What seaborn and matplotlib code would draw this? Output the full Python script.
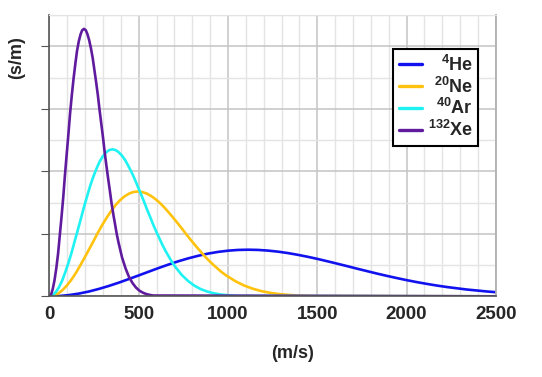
import pandas as pd
import matplotlib
matplotlib.use("Agg")
import matplotlib.pyplot as plt
import seaborn as sns

# speed (m/s) and speed distribution (1e-3 s/m)
he_speed = [0, 56, 111, 167, 223, 278, 334, 390, 445, 501, 557, 612, 668, 723,
            779, 835, 890, 946, 1002, 1057, 1113, 1169, 1224, 1280, 1336, 1391,
            1447, 1503, 1558, 1614, 1670, 1725, 1781, 1836, 1892, 1948, 2003,
            2059, 2115, 2170, 2226, 2337, 2449, 2500]
he_dens = [0, 0.0051, 0.0201, 0.0446, 0.0779, 0.1191, 0.1668, 0.2198, 0.2765,
           0.3353, 0.3948, 0.4533, 0.5093, 0.5615, 0.6087, 0.6499, 0.6843,
           0.7113, 0.7306, 0.7422, 0.7459, 0.7423, 0.7316, 0.7146, 0.6918,
           0.6641, 0.6323, 0.5973, 0.5598, 0.5207, 0.4809, 0.4408, 0.4013,
           0.3627, 0.3257, 0.2904, 0.2573, 0.2264, 0.1980, 0.1721, 0.1486,
           0.1087, 0.0776, 0.0659]

ne_speed = [0, 25, 50, 74, 99, 124, 149, 173, 198, 223, 248, 272, 297, 322,
            347, 371, 396, 421, 446, 470, 495, 520, 545, 569, 594, 619, 644,
            668, 693, 718, 743, 767, 792, 817, 842, 866, 891, 916, 941, 965,
            990, 1040, 1089, 1139, 1188, 1238, 1287, 1337, 1386, 1436, 1485,
            2500]
ne_dens = [0, 0.0114, 0.0451, 0.1003, 0.1752, 0.2677, 0.3750, 0.4941, 0.6216,
           0.7540, 0.8877, 1.0192, 1.1451, 1.2625, 1.3686, 1.4612, 1.5386,
           1.5994, 1.6429, 1.6687, 1.6772, 1.6690, 1.6451, 1.6067, 1.5555,
           1.4932, 1.4217, 1.3429, 1.2587, 1.1709, 1.0812, 0.9912, 0.9023,
           0.8156, 0.7323, 0.6531, 0.5785, 0.5092, 0.4453, 0.3869, 0.3340,
           0.2444, 0.1745, 0.1216, 0.0827, 0.0550, 0.0357, 0.0227, 0.0141,
           0.0085, 0.0051, 0]

ar_speed = [0, 18, 35, 53, 71, 88, 106, 124, 141, 159, 177, 194, 212, 229,
            247, 265, 282, 300, 318, 335, 353, 371, 388, 406, 424, 441, 459,
            477, 494, 512, 530, 547, 565, 582, 600, 618, 635, 653, 671, 688,
            706, 741, 777, 812, 847, 883, 918, 953, 988, 1024, 1059, 2500]
ar_dens = [0, 0.0159, 0.0633, 0.1406, 0.2457, 0.3754, 0.5259, 0.6929, 0.8717,
           1.0573, 1.2448, 1.4291, 1.6058, 1.7704, 1.9192, 2.0491, 2.1575,
           2.2428, 2.3038, 2.3400, 2.3520, 2.3404, 2.3068, 2.2530, 2.1812,
           2.0939, 1.9937, 1.8832, 1.7651, 1.6419, 1.5161, 1.3899, 1.2652,
           1.1437, 1.0269, 0.9158, 0.8113, 0.7140, 0.6244, 0.5425, 0.4684,
           0.3427, 0.2447, 0.1705, 0.1160, 0.0771, 0.0501, 0.0318, 0.0197,
           0.0120, 0.0071, 0]

xe_speed = [0, 10, 19, 29, 39, 49, 58, 68, 78, 87, 97, 107, 116, 126, 136, 146,
            155, 165, 175, 184, 194, 204, 213, 223, 233, 243, 252, 262, 272,
            281, 291, 301, 310, 320, 330, 340, 349, 359, 369, 378, 388, 407,
            427, 446, 466, 485, 504, 524, 543, 563, 582, 2500]
xe_dens = [0, 0.0290, 0.1152, 0.2559, 0.4471, 0.6830, 0.9569, 1.2607, 1.5861,
           1.9239, 2.2650, 2.6004, 2.9218, 3.2213, 3.4921, 3.7284, 3.9257,
           4.0809, 4.1918, 4.2578, 4.2795, 4.2585, 4.1974, 4.0995, 3.9689,
           3.8100, 3.6276, 3.4265, 3.2117, 2.9876, 2.7587, 2.5291, 2.3022,
           2.0811, 1.8685, 1.6663, 1.4761, 1.2991, 1.1361, 0.9871, 0.8523,
           0.6236, 0.4452, 0.3103, 0.2111, 0.1404, 0.0912, 0.0579, 0.0359,
           0.0218, 0.0129, 0]

gases = ['He', 'Ne', 'Ar', 'Xe']
legend_labels = [r'$\mathbf{^{4}}$He', r'$\mathbf{^{20}}$Ne',
                 r'$\mathbf{^{40}}$Ar', r'$\mathbf{^{132}}$Xe']
colors = ['#1212ee', '#ffc20e', '#1ff2f2', '#5f1a9e']

frames = []
for gas, sp, dn in zip(gases, [he_speed, ne_speed, ar_speed, xe_speed],
                       [he_dens, ne_dens, ar_dens, xe_dens]):
    frames.append(pd.DataFrame({'speed': sp, 'dens': dn, 'gas': gas}))
df = pd.concat(frames, ignore_index=True)

sns.set_style('white')
plt.rcParams['font.family'] = ['Liberation Sans', 'DejaVu Sans']
plt.rcParams['mathtext.fontset'] = 'custom'
plt.rcParams['mathtext.bf'] = 'Liberation Sans:bold'
plt.rcParams['mathtext.rm'] = 'Liberation Sans:bold'

fig = plt.figure(figsize=(5.42, 3.77), dpi=100)
ax = fig.add_axes([0.091, 0.214, 0.824, 0.746])

sns.lineplot(data=df, x='speed', y='dens', hue='gas', hue_order=gases,
             palette=dict(zip(gases, colors)), sort=False, estimator=None,
             linewidth=1.9, legend=False, ax=ax)

ax.set_xlim(0, 2500)
ax.set_ylim(0, 4.5)
ax.set_xticks([0, 500, 1000, 1500, 2000, 2500])
ax.set_xticks(range(0, 2501, 100), minor=True)
ax.set_yticks([0, 1, 2, 3, 4])
ax.set_yticks([0.5, 1.5, 2.5, 3.5, 4.5], minor=True)
ax.set_yticklabels([])
ax.grid(which='major', color='#c4c4c4', linewidth=1.1)
ax.grid(which='minor', color='#e4e4e4', linewidth=1.0)
ax.set_axisbelow(True)

for lab in ax.get_xticklabels():
    lab.set_fontweight('bold')
ax.tick_params(axis='x', which='major', labelsize=13.5, length=3, color='#555555', pad=4)
ax.tick_params(axis='y', which='major', length=6, color='#555555', left=True)
ax.tick_params(which='minor', length=0)

ax.spines['left'].set_color('#555555')
ax.spines['bottom'].set_color('#555555')
ax.spines['left'].set_linewidth(1.2)
ax.spines['bottom'].set_linewidth(1.2)
ax.spines['top'].set_color('#e4e4e4')
ax.spines['right'].set_color('#b0b0b0')
ax.spines['right'].set_linewidth(1.3)

ax.set_xlabel('(m/s)', fontsize=13, fontweight='bold')
ax.set_ylabel('(s/m)', fontsize=13, fontweight='bold')
ax.xaxis.set_label_coords(0.544, -0.173)
ax.yaxis.set_label_coords(-0.054, 0.85)

leg = ax.legend(handles=ax.lines, labels=legend_labels, loc='upper right',
                bbox_to_anchor=(0.96, 0.879), borderaxespad=0, fancybox=False,
                framealpha=1, edgecolor='black', handlelength=1.3,
                prop={'weight': 'bold', 'size': 13}, labelspacing=0.1,
                handletextpad=0.3, borderpad=0.3)
leg.get_frame().set_linewidth(1.5)
for h in leg.get_lines():
    h.set_linewidth(2.4)

# right-align legend labels
renderer = fig.canvas.get_renderer()
widths = [t.get_window_extent(renderer).width for t in leg.get_texts()]
for t, w in zip(leg.get_texts(), widths):
    t.set_position((max(widths) - w, 0))

fig.savefig('out.png', dpi=100)
